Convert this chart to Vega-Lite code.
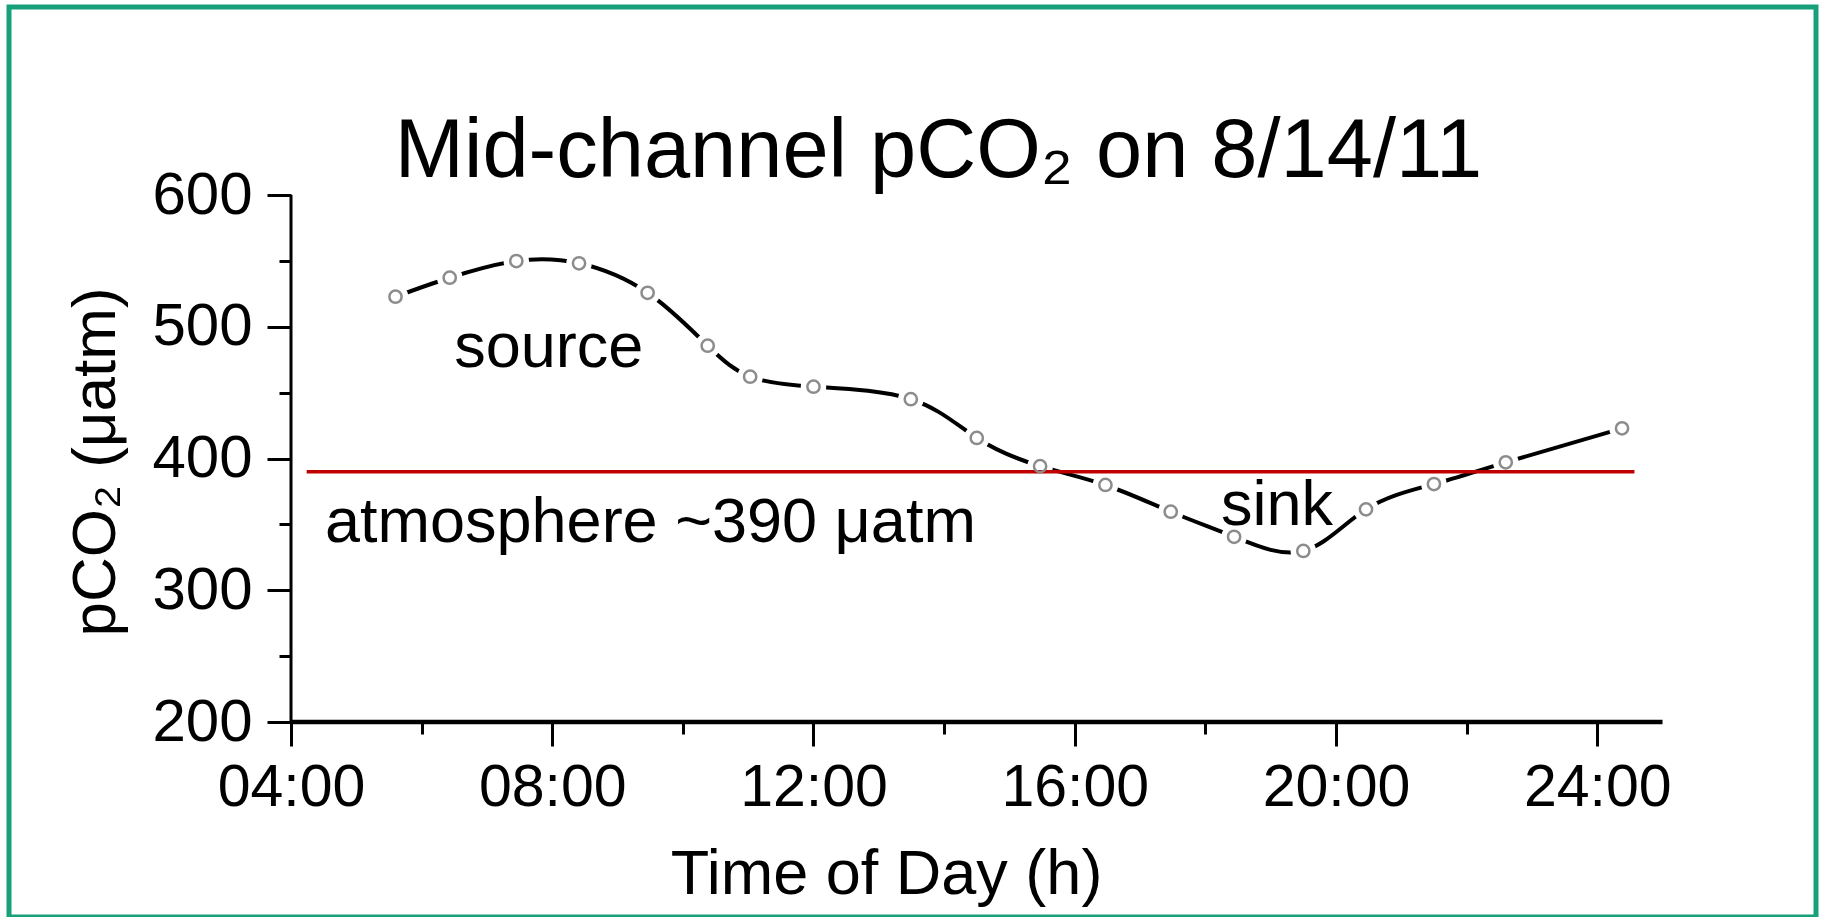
{
  "$schema": "https://vega.github.io/schema/vega-lite/v6.json",
  "width": 1807,
  "height": 910,
  "autosize": {"type": "none"},
  "padding": {"left": 9, "top": 7, "right": 5, "bottom": 0},
  "background": "white",
  "config": {
    "view": {"stroke": "#17a079", "strokeWidth": 5},
    "font": "Liberation Sans",
    "axis": {
      "grid": false,
      "domain": false,
      "tickColor": "black",
      "labelColor": "black",
      "titleColor": "black",
      "labelFont": "Liberation Sans",
      "titleFont": "Liberation Sans",
      "titleFontWeight": "normal"
    }
  },
  "title": {
    "text": "Mid-channel pCO₂ on 8/14/11",
    "font": "Liberation Sans",
    "fontSize": 83,
    "fontWeight": "normal",
    "color": "black",
    "anchor": "middle",
    "frame": "group",
    "baseline": "alphabetic",
    "offset": -173,
    "dx": 26,
    "dy": 80
  },
  "datasets": {
    "series": [
      {"t": 5.60, "v": 522.8},
      {"t": 6.43, "v": 537.2},
      {"t": 7.45, "v": 549.9},
      {"t": 8.41, "v": 548.2},
      {"t": 9.46, "v": 525.8},
      {"t": 10.38, "v": 485.6},
      {"t": 11.03, "v": 462.1},
      {"t": 12.00, "v": 454.5},
      {"t": 13.49, "v": 445.0},
      {"t": 14.50, "v": 415.6},
      {"t": 15.47, "v": 394.2},
      {"t": 16.47, "v": 379.9},
      {"t": 17.47, "v": 359.6},
      {"t": 18.44, "v": 340.6},
      {"t": 19.50, "v": 329.8},
      {"t": 20.46, "v": 361.4},
      {"t": 21.50, "v": 380.6},
      {"t": 22.60, "v": 397.1},
      {"t": 24.38, "v": 422.9}
    ],
    "atmosphere": [{"t": 4.24, "t2": 24.57, "v": 390}],
    "xaxisline": [{"t": 4, "t2": 25, "v": 200}],
    "yaxisline": [{"t": 4, "v": 200, "v2": 600}],
    "notes": [
      {"t": 6.50, "v": 469.7, "label": "source"},
      {"t": 4.52, "v": 337, "label": "atmosphere ~390 μatm"},
      {"t": 18.24, "v": 349.5, "label": "sink"}
    ]
  },
  "layer": [
    {
      "data": {"name": "xaxisline"},
      "mark": {"type": "rule", "color": "black", "strokeWidth": 4.5},
      "encoding": {
        "x": {
          "field": "t", "type": "quantitative",
          "scale": {"domain": [-0.318, 27.35], "nice": false, "zero": false},
          "axis": {"orient": "bottom", "offset": -195, "values": [6, 10, 14, 18, 22], "tickSize": 12, "tickWidth": 3, "labels": false, "title": null}
        },
        "x2": {"field": "t2"},
        "y": {
          "field": "v", "type": "quantitative",
          "scale": {"domain": [52.0, 742.7], "nice": false, "zero": false},
          "axis": {"orient": "left", "offset": -282, "values": [250, 350, 450, 550], "tickSize": 12, "tickWidth": 3, "labels": false, "title": null}
        }
      }
    },
    {
      "data": {"name": "yaxisline"},
      "mark": {"type": "rule", "color": "black", "strokeWidth": 3},
      "encoding": {
        "x": {"field": "t", "type": "quantitative", "scale": {"domain": [-0.318, 27.35], "nice": false, "zero": false}, "axis": null},
        "y": {"field": "v", "type": "quantitative", "scale": {"domain": [52.0, 742.7], "nice": false, "zero": false}, "axis": null},
        "y2": {"field": "v2"}
      }
    },
    {
      "data": {"name": "series"},
      "mark": {"type": "line", "color": "black", "strokeWidth": 4, "interpolate": "natural"},
      "encoding": {
        "x": {
          "field": "t", "type": "quantitative",
          "scale": {"domain": [-0.318, 27.35], "nice": false, "zero": false},
          "axis": {
            "orient": "bottom", "offset": -195, "values": [4, 8, 12, 16, 20, 24],
            "labelExpr": "format(datum.value, '02d') + ':00'",
            "tickSize": 24, "tickWidth": 3, "labelFontSize": 59, "labelPadding": 12,
            "labelFlush": false, "labelOverlap": false,
            "title": "Time of Day (h)", "titleFontSize": 63, "titleX": 877, "titleY": 171, "titleBaseline": "alphabetic"
          }
        },
        "y": {
          "field": "v", "type": "quantitative",
          "scale": {"domain": [52.0, 742.7], "nice": false, "zero": false},
          "axis": {
            "orient": "left", "offset": -282, "values": [200, 300, 400, 500, 600],
            "tickSize": 24, "tickWidth": 3, "labelFontSize": 60, "labelPadding": 15,
            "labelFlush": false, "labelOverlap": false,
            "title": "pCO₂ (μatm)", "titleFontSize": 62, "titleAngle": -90, "titleX": -177, "titleY": 454.5, "titleBaseline": "alphabetic"
          }
        }
      }
    },
    {
      "data": {"name": "series"},
      "mark": {"type": "point", "shape": "circle", "filled": true, "color": "white", "size": 650, "opacity": 1},
      "encoding": {
        "x": {"field": "t", "type": "quantitative", "scale": {"domain": [-0.318, 27.35], "nice": false, "zero": false}, "axis": null},
        "y": {"field": "v", "type": "quantitative", "scale": {"domain": [52.0, 742.7], "nice": false, "zero": false}, "axis": null}
      }
    },
    {
      "data": {"name": "atmosphere"},
      "mark": {"type": "rule", "color": "#c00000", "strokeWidth": 3.5},
      "encoding": {
        "x": {"field": "t", "type": "quantitative", "scale": {"domain": [-0.318, 27.35], "nice": false, "zero": false}, "axis": null},
        "x2": {"field": "t2"},
        "y": {"field": "v", "type": "quantitative", "scale": {"domain": [52.0, 742.7], "nice": false, "zero": false}, "axis": null}
      }
    },
    {
      "data": {"name": "series"},
      "mark": {"type": "point", "shape": "circle", "filled": false, "stroke": "#8c8c8c", "strokeWidth": 2.5, "size": 150, "opacity": 1},
      "encoding": {
        "x": {"field": "t", "type": "quantitative", "scale": {"domain": [-0.318, 27.35], "nice": false, "zero": false}, "axis": null},
        "y": {"field": "v", "type": "quantitative", "scale": {"domain": [52.0, 742.7], "nice": false, "zero": false}, "axis": null}
      }
    },
    {
      "data": {"name": "notes"},
      "mark": {"type": "text", "align": "left", "baseline": "alphabetic", "font": "Liberation Sans", "fontSize": 63, "color": "black"},
      "encoding": {
        "x": {"field": "t", "type": "quantitative", "scale": {"domain": [-0.318, 27.35], "nice": false, "zero": false}, "axis": null},
        "y": {"field": "v", "type": "quantitative", "scale": {"domain": [52.0, 742.7], "nice": false, "zero": false}, "axis": null},
        "text": {"field": "label"}
      }
    }
  ],
  "resolve": {"axis": {"x": "independent", "y": "independent"}}
}
